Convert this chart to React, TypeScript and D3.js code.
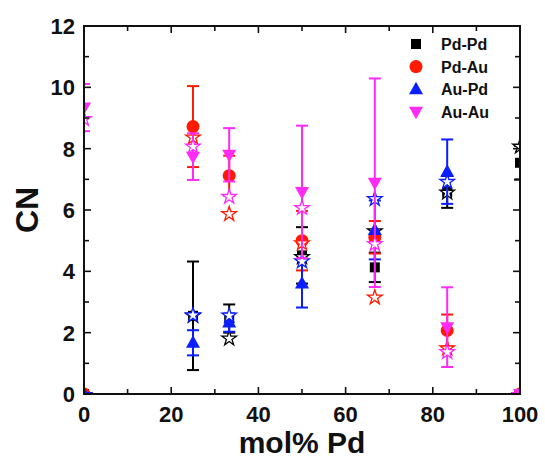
import React from "react";
import * as d3 from "d3";

// Composition (mol% Pd) of each sample
const molPd = [0, 25, 33.3, 50, 66.7, 83.3, 100];

// Measured coordination numbers with uncertainties
const pdPd = [0, 2.55, 2.46, 4.52, 4.13, 6.59, 7.54];
const pdPdErr = [0, 1.77, 0.46, 0.92, 0.48, 0.52, 0.55];
const pdAu = [0, 8.72, 7.12, 5.0, 5.11, 2.07, 0];
const pdAuErr = [0, 1.32, 0.65, 0.97, 0.53, 0.52, 0];
const auPd = [0, 1.67, 2.33, 3.6, 5.35, 7.25, 0];
const auPdErr = [0, 0.41, 0.3, 0.78, 0.96, 1.05, 0];
const auAu = [9.34, 7.74, 7.8, 6.59, 6.89, 2.18, 0];
const auAuErr = [0.77, 0.76, 0.87, 2.16, 3.4, 1.3, 0];

// Model coordination numbers (open stars)
const pdPdModel = [0, 2.58, 1.84, 4.5, 5.34, 6.6, 8.1];
const pdAuModel = [0, 8.4, 5.9, 4.95, 3.18, 1.52, 0];
const auPdModel = [0, 2.6, 2.59, 4.36, 6.39, 6.95, 0];
const auAuModel = [9.0, 8.1, 6.46, 6.1, 4.92, 1.4, 0];

const seriesNames = ["Pd-Pd", "Pd-Au", "Au-Pd", "Au-Au"];
const xTicks = [0, 20, 40, 60, 80, 100];
const yTicks = [0, 2, 4, 6, 8, 10, 12];

const W = 545;
const H = 461;
const left = 84;
const right = 520;
const top = 26;
const bottom = 394;

const x = d3.scaleLinear().domain([0, 100]).range([left, right]);
const y = d3.scaleLinear().domain([0, 12]).range([bottom, top]);

const FONT = "'Liberation Sans', Arial, Helvetica, sans-serif";

type Shape = "square" | "circle" | "up" | "down";

function markerPath(shape: Shape): string {
  if (shape === "square") return "M-5,-5H5V5H-5Z";
  if (shape === "up") return "M0,-7.5L7,5L-7,5Z";
  if (shape === "down") return "M0,7.5L7,-5L-7,-5Z";
  return d3.symbol(d3.symbolCircle, Math.PI * 6.5 * 6.5)() as string;
}

const starPath = d3.symbol(d3.symbolStar, 66)() as string;

const series = [
  { name: seriesNames[0], color: "#000000", shape: "square" as Shape, vals: pdPd, err: pdPdErr, model: pdPdModel },
  { name: seriesNames[1], color: "#ff1a00", shape: "circle" as Shape, vals: pdAu, err: pdAuErr, model: pdAuModel },
  { name: seriesNames[2], color: "#0a1eff", shape: "up" as Shape, vals: auPd, err: auPdErr, model: auPdModel },
  { name: seriesNames[3], color: "#ff2af5", shape: "down" as Shape, vals: auAu, err: auAuErr, model: auAuModel },
];

export default function App() {
  const minorX = d3.range(0, 101, 10);
  const minorY = d3.range(0, 13, 1);
  const cap = 6;

  return (
    <svg width={W} height={H} style={{ position: "absolute", left: 0, top: 0, background: "#fff" }}>
      <defs>
        <clipPath id="plotClip">
          <rect x={left} y={top} width={right - left} height={bottom - top} />
        </clipPath>
      </defs>

      <g clipPath="url(#plotClip)">
        {series.map((s) => (
          <g key={s.name}>
            {molPd.map((m, i) => {
              const cx = x(m);
              const e = s.err[i];
              return (
                <g key={i}>
                  {e > 0 && (
                    <g stroke={s.color} strokeWidth={2}>
                      <line x1={cx} x2={cx} y1={y(s.vals[i] + e)} y2={y(s.vals[i] - e)} />
                      <line x1={cx - cap} x2={cx + cap} y1={y(s.vals[i] + e)} y2={y(s.vals[i] + e)} />
                      <line x1={cx - cap} x2={cx + cap} y1={y(s.vals[i] - e)} y2={y(s.vals[i] - e)} />
                    </g>
                  )}
                  <path d={markerPath(s.shape)} transform={`translate(${cx},${y(s.vals[i])})`} fill={s.color} />
                </g>
              );
            })}
            {molPd.map((m, i) => (
              <path
                key={"st" + i}
                d={starPath}
                transform={`translate(${x(m)},${y(s.model[i]) + 1})`}
                fill="#fff"
                stroke={s.color}
                strokeWidth={1.3}
              />
            ))}
          </g>
        ))}
      </g>

      {/* frame */}
      <rect x={left} y={top} width={right - left} height={bottom - top} fill="none" stroke="#111" strokeWidth={2} />

      {/* ticks, pointing inward on all four sides */}
      <g stroke="#111" strokeWidth={1.6}>
        {minorX.map((v) => {
          const len = v % 20 === 0 ? 7 : 5;
          return (
            <g key={"tx" + v}>
              <line x1={x(v)} x2={x(v)} y1={bottom} y2={bottom - len} />
              <line x1={x(v)} x2={x(v)} y1={top} y2={top + len} />
            </g>
          );
        })}
        {minorY.map((v) => {
          const len = v % 2 === 0 ? 7 : 5;
          return (
            <g key={"ty" + v}>
              <line x1={left} x2={left + len} y1={y(v)} y2={y(v)} />
              <line x1={right} x2={right - len} y1={y(v)} y2={y(v)} />
            </g>
          );
        })}
      </g>

      {/* tick labels */}
      <g fontFamily={FONT} fontWeight="bold" fontSize={22} fill="#111">
        {xTicks.map((v) => (
          <text key={"lx" + v} x={x(v)} y={422} textAnchor="middle">
            {v}
          </text>
        ))}
        {yTicks.map((v) => (
          <text key={"ly" + v} x={75} y={y(v) + 8} textAnchor="end">
            {v}
          </text>
        ))}
      </g>

      {/* axis titles */}
      <text x={302} y={453} textAnchor="middle" fontFamily={FONT} fontWeight="bold" fontSize={30} fill="#111">
        mol% Pd
      </text>
      <text
        transform={`translate(38,${(top + bottom) / 2}) rotate(-90)`}
        textAnchor="middle"
        fontFamily={FONT}
        fontWeight="bold"
        fontSize={32}
        fill="#111"
      >
        CN
      </text>

      {/* legend */}
      <g fontFamily={FONT} fontWeight="bold" fontSize={16} fill="#111">
        {series.map((s, i) => {
          const ly = 44 + i * 22.6;
          return (
            <g key={"lg" + s.name}>
              <path d={markerPath(s.shape)} transform={`translate(416,${ly})`} fill={s.color} />
              <text x={441} y={ly + 6}>
                {s.name}
              </text>
            </g>
          );
        })}
      </g>
    </svg>
  );
}
